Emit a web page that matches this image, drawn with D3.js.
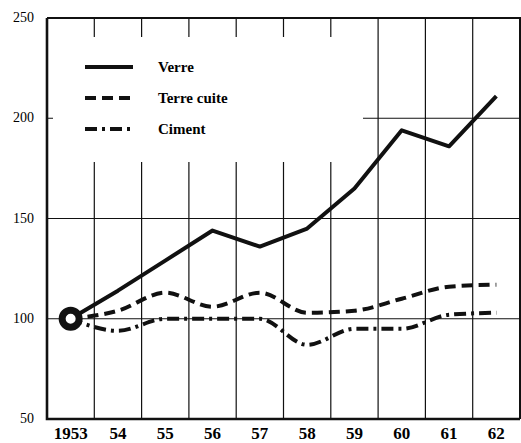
<!DOCTYPE html>
<html>
<head>
<meta charset="utf-8">
<script src="https://cdn.jsdelivr.net/npm/d3@7"></script>
<style>
  body { margin: 0; background: #fff; }
  svg { display: block; }
</style>
</head>
<body>
<div id="chart"></div>
<script>
const years = ["1953", "54", "55", "56", "57", "58", "59", "60", "61", "62"];
const verre = [100, 114, 129, 144, 136, 145, 165, 194, 186, 211];
const terreCuite = [100, 104, 113, 106, 113, 103, 104, 110, 116, 117];
const ciment = [100, 94, 100, 100, 100, 87, 95, 95, 102, 103];
const yTicks = [50, 100, 150, 200, 250];

const series = [
    {name: "Verre", values: verre, dash: null, curve: d3.curveLinear},
    {name: "Terre cuite", values: terreCuite, dash: "11,6", curve: d3.curveMonotoneX},
    {name: "Ciment", values: ciment, dash: "12,5,3,5", curve: d3.curveMonotoneX}
];

const width = 521, height = 443;
const frame = {left: 47, right: 520, top: 18, bottom: 419};
const font = "Liberation Serif, DejaVu Serif, serif";

const x = d3.scaleBand().domain(years).range([frame.left, frame.right]);
const y = d3.scaleLinear().domain([50, 250]).range([frame.bottom, frame.top]);

const svg = d3.select("#chart").append("svg")
    .attr("width", width)
    .attr("height", height);

// grid
const grid = svg.append("g").attr("stroke", "#111").attr("stroke-width", 1.2);
grid.selectAll(".vline")
    .data(years.slice(1))
    .join("line")
    .attr("x1", d => x(d)).attr("x2", d => x(d))
    .attr("y1", frame.top).attr("y2", frame.bottom);
grid.selectAll(".hline")
    .data(yTicks.slice(1, -1))
    .join("line")
    .attr("x1", frame.left).attr("x2", frame.right)
    .attr("y1", d => y(d)).attr("y2", d => y(d));

// blank area behind the legend
svg.append("rect")
    .attr("x", frame.left + 6).attr("y", frame.top + 19)
    .attr("width", 310).attr("height", 125)
    .attr("fill", "#fff");

// frame
svg.append("path")
    .attr("d", `M${frame.left},${frame.top}H${frame.right}V${frame.bottom}`)
    .attr("fill", "none").attr("stroke", "#111").attr("stroke-width", 2);
svg.append("path")
    .attr("d", `M${frame.left},${frame.top}V${frame.bottom}H${frame.right}`)
    .attr("fill", "none").attr("stroke", "#111").attr("stroke-width", 2.6);

// y labels
svg.append("g")
    .selectAll("text")
    .data(yTicks)
    .join("text")
    .attr("x", 34)
    .attr("y", d => y(d) + 4)
    .attr("text-anchor", "end")
    .style("font", `14px ${font}`)
    .text(d => d);

// x labels
svg.append("g")
    .selectAll("text")
    .data(years)
    .join("text")
    .attr("x", d => x(d) + x.bandwidth() / 2)
    .attr("y", 439)
    .attr("text-anchor", "middle")
    .style("font", `bold 17px ${font}`)
    .text(d => d);

// lines
series.forEach(s => {
    svg.append("path")
        .datum(s.values)
        .attr("fill", "none")
        .attr("stroke", "#111")
        .attr("stroke-width", 4)
        .attr("stroke-linejoin", "round")
        .attr("stroke-dasharray", s.dash)
        .attr("d", d3.line()
            .curve(s.curve)
            .x((d, i) => x(years[i]) + x.bandwidth() / 2)
            .y(d => y(d)));
});

// start marker
svg.append("circle")
    .attr("cx", x(years[0]) + x.bandwidth() / 2)
    .attr("cy", y(verre[0]))
    .attr("r", 8.5)
    .attr("fill", "#fff")
    .attr("stroke", "#111")
    .attr("stroke-width", 7);

// legend
const legend = svg.append("g")
    .selectAll("g")
    .data(series)
    .join("g")
    .attr("transform", (d, i) => `translate(85, ${67 + i * 31})`);
legend.append("line")
    .attr("x1", 0).attr("x2", 48)
    .attr("stroke", "#111").attr("stroke-width", 4)
    .attr("stroke-dasharray", d => d.dash);
legend.append("text")
    .attr("x", 73).attr("y", 5)
    .style("font", `bold 15px ${font}`)
    .text(d => d.name);
</script>
</body>
</html>
